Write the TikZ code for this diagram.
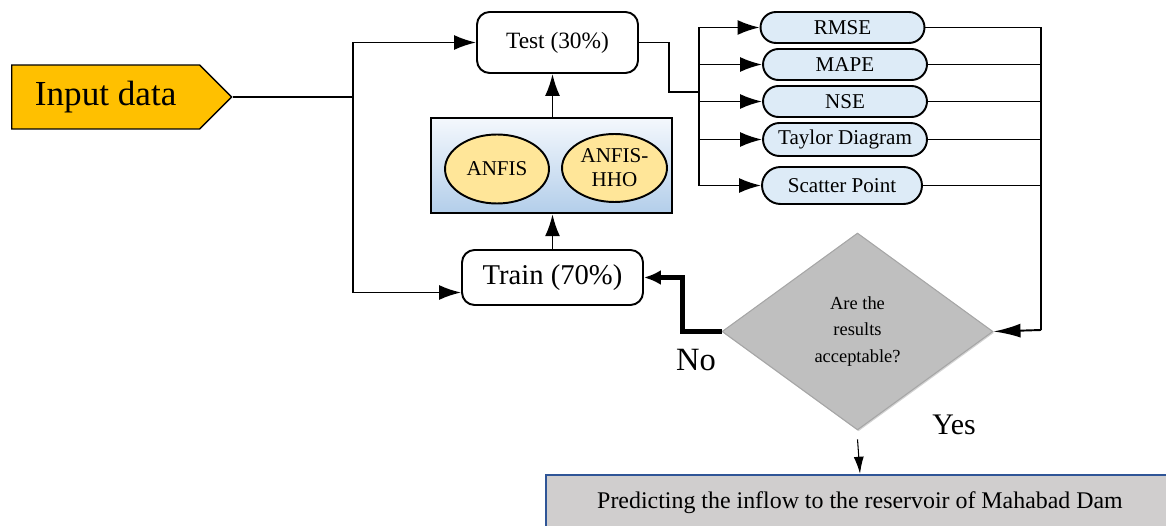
\documentclass[tikz,border=0pt]{standalone}
\usepackage{fontspec}
\setmainfont{Liberation Serif}
\usepackage{xcolor}
\usepackage{tikz}
\usetikzlibrary{positioning,arrows.meta,shapes.geometric,shapes.symbols,shapes.misc,shadows,calc}

\definecolor{inputgold}{HTML}{FFC000}
\definecolor{modelgold}{HTML}{FFE699}
\definecolor{metricblue}{HTML}{DDEBF7}
\definecolor{paneltop}{HTML}{F4F8FD}
\definecolor{panelbot}{HTML}{B3CEEA}
\definecolor{decgray}{HTML}{BFBFBF}
\definecolor{predgray}{HTML}{D0CECE}
\definecolor{predblue}{HTML}{2F5597}

\begin{document}
\begin{tikzpicture}[
    x=0.02cm, y=-0.02cm,
    box/.style={
        rectangle,
        rounded corners=2.5mm,
        draw,
        line width=1.1pt,
        align=center
    },
    model/.style={
        ellipse,
        draw,
        line width=1.1pt,
        fill=modelgold,
        align=center,
        inner sep=0pt,
        minimum width=2.08cm,
        minimum height=1.38cm,
        font=\fontsize{12}{13.6}\selectfont
    },
    metric/.style={
        rounded rectangle,
        draw,
        line width=1.1pt,
        fill=metricblue,
        inner sep=0pt,
        minimum width=3.28cm,
        minimum height=0.62cm,
        font=\fontsize{12}{13}\selectfont
    },
    arrow/.style={
        -{Latex[length=4.4mm,width=3mm]},
        line width=1.1pt
    }
]
\useasboundingbox (0,0) rectangle (1166,526);
\clip (0,0) rectangle (1166,526);

% input and split into train/test
\node[signal, signal to=east, signal pointer angle=90, draw, line width=0.8pt,
      fill=inputgold, minimum width=4.4cm, minimum height=1.28cm, anchor=west,
      font=\fontsize{20}{22}\selectfont] (inp) at (11,97) {Input data};
\coordinate (split) at (353,97);

\node[box, minimum width=3.22cm, minimum height=1.22cm,
      font=\fontsize{13.3}{15}\selectfont] (test) at (557.5,42.5) {Test (30\%)};
\node[box, minimum width=3.62cm, minimum height=1.1cm,
      font=\fontsize{16.3}{18}\selectfont] (train) at (552.5,277.5) {Train (70\%)};

% model panel
\node[rectangle, draw, line width=1.4pt, top color=paneltop, bottom color=panelbot,
      minimum width=4.82cm, minimum height=1.9cm] (panel) at (551.5,165.5) {};
\node[model] (anfis) at (497,169) {ANFIS};
\node[model, minimum width=2.1cm, minimum height=1.36cm] (hho) at (614.5,168) {ANFIS-\\HHO};

% evaluation criteria
\node[metric] (rmse) at (842.5,27.5) {RMSE};
\node[metric] (mape) at (845,64.5) {MAPE};
\node[metric] (nse) at (845,101.5) {NSE};
\node[metric, minimum height=0.66cm] (taylor) at (845,139.5) {Taylor Diagram};
\node[metric, minimum width=3.2cm, minimum height=0.74cm] (scatter) at (842,185.5) {Scatter Point};
\coordinate (bus) at (699,92);
\coordinate (join) at (1041,330);

% decision and result
\node[diamond, draw=gray!70, line width=0.6pt, fill=decgray, inner sep=0pt,
      minimum width=5.42cm, minimum height=3.94cm, align=center,
      drop shadow={opacity=0.35, shadow xshift=0.6pt, shadow yshift=-0.8pt},
      font=\fontsize{10.5}{15.3}\selectfont] (dec) at (857.5,331.5)
{Are the\\results\\acceptable?};
\node[rectangle, draw=predblue, line width=1.4pt, fill=predgray,
      minimum width=12.6cm, minimum height=1.12cm] (pred) at (861,503) {};
\node[font=\fontsize{13.6}{15}\selectfont] (predtext) at (860,503)
{Predicting the inflow to the reservoir of Mahabad Dam};

\node[font=\fontsize{18.5}{20}\selectfont] (no) at (696,360) {No};
\node[font=\fontsize{17}{19}\selectfont] (yes) at (954,425) {Yes};

% connectors
\draw[line width=1.1pt] (inp.east) -- (split);
\draw[arrow] (split) |- (test.west);
\draw[arrow] (split) |- ($(train.west)+(0,15)$);
\draw[arrow] (train.north) -- (panel.south -| train.north);
\draw[arrow] (panel.north -| train.north) -- (test.south -| train.north);

\draw[line width=1.1pt] (test.east) -- ++(30,0) |- (bus);
\foreach \m in {rmse,mape,nse,taylor,scatter}{
    \draw[arrow] (bus) |- (\m.west);
    \draw[line width=1.1pt] (\m.east) -| (join);
}
\draw[-{Latex[length=5.4mm,width=2.8mm]}, line width=1.1pt] (join) -- (dec.east);

\draw[-{Latex[length=3.4mm,width=3mm]}, line width=2.8pt] (dec.west) -- ++(-39,0) |- (train.east);
\draw[-{Latex[length=3.4mm,width=2mm]}, line width=0.6pt] ([yshift=-5pt]dec.south) -- (pred.north -| predtext.north);

\end{tikzpicture}
\end{document}
